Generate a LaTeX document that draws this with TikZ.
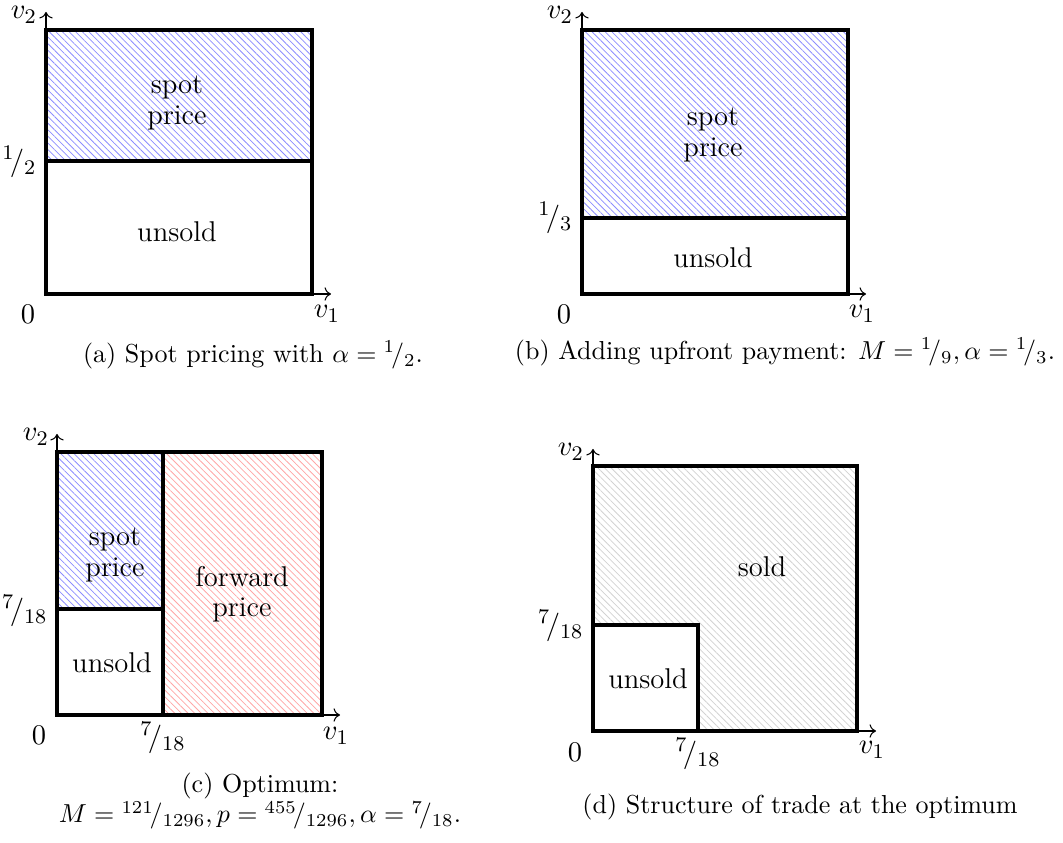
\documentclass[tikz,border=0pt]{standalone}
\usepackage{amsmath}
\usepackage{tikz}
\usetikzlibrary{arrows.meta,patterns.meta}

\newcommand{\nfr}[2]{{}^{#1}\!/_{#2}}

\begin{document}
\begin{tikzpicture}[
  x=0.3846pt, y=-0.3846pt,
  lab/.style={font=\fontsize{11}{11.6}\selectfont, align=center, inner sep=0pt},
  captext/.style={font=\fontsize{10}{9.3}\selectfont, align=center, inner sep=0pt},
  region/.style={line width=1.5pt},
  axis/.style={->, line width=0.4pt},
  hatch/.style={pattern={Lines[angle=-45,distance=1.8pt,line width=0.3pt]}},
  spot/.style={hatch, pattern color=blue!45},
  fwd/.style={hatch, pattern color=red!35},
  sold/.style={hatch, pattern color=gray!35}
]
\useasboundingbox (0,0) rectangle (1063,843);

% (a) spot pricing
\coordinate (aO) at (46,294);
\coordinate (aX) at (331,294);
\coordinate (aY) at (46,12);
\fill[spot] (46,30) rectangle (312,161);
\draw[axis] (aO) -- (aX);
\draw[axis] (aO) -- (aY);
\draw[region] (46,30) rectangle (312,294);
\draw[region] (46,161) -- (312,161);
\node[lab] (aSpot) at (177,103) {spot\\price};
\node[lab] (aUnsold) at (177,232) {unsold};
\node[lab] (aV2) at (24,15) {$v_2$};
\node[lab] (aV1) at (327,314) {$v_1$};
\node[lab] (aZero) at (28,314) {$0$};
\node[lab, anchor=east] (aHalf) at (37,162) {$\nfr{1}{2}$};
\node[captext] (aCap) at (253,355) {(a) Spot pricing with $\alpha = \nfr{1}{2}$.};

% (b) upfront payment
\coordinate (bO) at (582,294);
\coordinate (bX) at (866,294);
\coordinate (bY) at (582,12);
\fill[spot] (582,30) rectangle (848,218);
\draw[axis] (bO) -- (bX);
\draw[axis] (bO) -- (bY);
\draw[region] (582,30) rectangle (848,294);
\draw[region] (582,218) -- (848,218);
\node[lab] (bSpot) at (713,135) {spot\\price};
\node[lab] (bUnsold) at (713,258) {unsold};
\node[lab] (bV2) at (560,15) {$v_2$};
\node[lab] (bV1) at (862,314) {$v_1$};
\node[lab] (bZero) at (564,314) {$0$};
\node[lab, anchor=east] (bThird) at (573,218) {$\nfr{1}{3}$};
\node[captext] (bCap) at (785,352) {(b) Adding upfront payment: $M = \nfr{1}{9}, \alpha = \nfr{1}{3}$.};

% (c) optimum
\coordinate (cO) at (57,715);
\coordinate (cX) at (340,715);
\coordinate (cY) at (57,434);
\fill[spot] (57,452) rectangle (163,609);
\fill[fwd] (163,452) rectangle (322,715);
\draw[axis] (cO) -- (cX);
\draw[axis] (cO) -- (cY);
\draw[region] (57,452) rectangle (322,715);
\draw[region] (163,452) -- (163,715);
\draw[region] (57,609) -- (163,609);
\node[lab] (cSpot) at (115,555) {spot\\price};
\node[lab] (cFwd) at (242,594) {forward\\price};
\node[lab] (cUnsold) at (112,663) {unsold};
\node[lab] (cV2) at (36,437) {$v_2$};
\node[lab] (cV1) at (336,736) {$v_1$};
\node[lab] (cZero) at (39,735) {$0$};
\node[lab, anchor=east] (cLeft) at (48,611) {$\nfr{7}{18}$};
\node[lab] (cBottom) at (163,738) {$\nfr{7}{18}$};
\node[captext] (cCap) at (260,801) {(c) Optimum:\\$M = \nfr{121}{1296}, p = \nfr{455}{1296}, \alpha = \nfr{7}{18}$.};

% (d) structure of trade
\coordinate (dO) at (593,731);
\coordinate (dX) at (876,731);
\coordinate (dY) at (593,449);
\fill[sold] (593,466) rectangle (857,731);
\fill[white] (593,625) rectangle (698,731);
\draw[axis] (dO) -- (dX);
\draw[axis] (dO) -- (dY);
\draw[region] (593,466) rectangle (857,731);
\draw[region] (593,625) rectangle (698,731);
\node[lab] (dSold) at (762,567) {sold};
\node[lab] (dUnsold) at (648,679) {unsold};
\node[lab] (dV2) at (571,452) {$v_2$};
\node[lab] (dV1) at (872,750) {$v_1$};
\node[lab] (dZero) at (575,752) {$0$};
\node[lab, anchor=east] (dLeft) at (584,626) {$\nfr{7}{18}$};
\node[lab] (dBottom) at (698,754) {$\nfr{7}{18}$};
\node[captext] (dCap) at (800,807) {(d) Structure of trade at the optimum};
\end{tikzpicture}
\end{document}
